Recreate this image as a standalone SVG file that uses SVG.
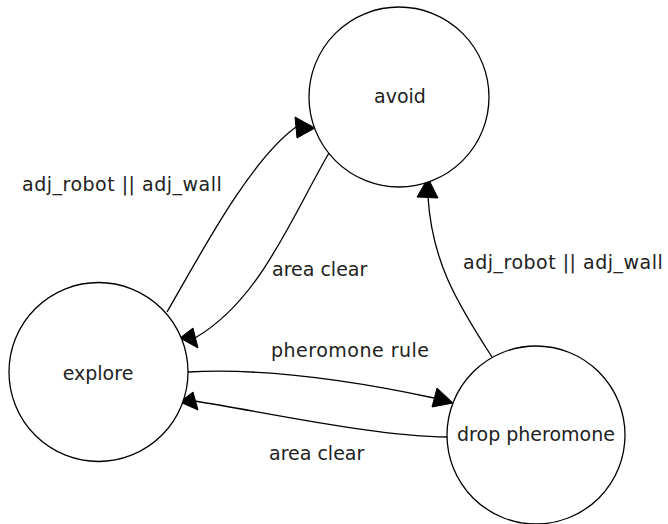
<svg xmlns="http://www.w3.org/2000/svg" width="668" height="524" viewBox="0 0 668 524">
<style>
.node circle{fill:#fff;stroke:#000;stroke-width:1.3}
text{font-family:"DejaVu Sans","Liberation Sans",sans-serif;font-size:19px;fill:#222}
.node text{text-anchor:middle}
.edge{fill:none;stroke:#000;stroke-width:1.3}
.ah{fill:#000;stroke:#000;stroke-width:1}
.wide{letter-spacing:0.5px}
</style>
<rect width="668" height="524" fill="#fff"/>
<g id="connectors">
<path class="edge" d="M167,312 C200,255 250,160 296,127"/>
<polygon class="ah" points="295,117 297,138 315,128"/>
<path class="edge" d="M329,153 C290,220 260,300 195,338"/>
<polygon class="ah" points="193,328 198,348 180,338"/>
<path class="edge" d="M188,372 C260,368 350,380 434,398"/>
<polygon class="ah" points="437,388 432,407 453,403"/>
<path class="edge" d="M448,437 C380,437 280,415 195,401"/>
<polygon class="ah" points="193,392 198,410 180,402"/>
<path class="edge" d="M492,357 C455,300 432,260 428,197"/>
<polygon class="ah" points="417,197 438,198 428,178"/>
<text class="wide" x="22" y="191">adj_robot || adj_wall</text>
<text x="272" y="276">area clear</text>
<text class="wide" x="271" y="357">pheromone rule</text>
<text x="269" y="460">area clear</text>
<text class="wide" x="463" y="269">adj_robot || adj_wall</text>
</g>
<g id="avoid" class="node">
<circle cx="399" cy="97" r="90"/>
<text x="400" y="103">avoid</text>
</g>
<g id="explore" class="node">
<circle cx="98.5" cy="372" r="89.5"/>
<text x="98" y="380">explore</text>
</g>
<g id="drop_pheromone" class="node">
<circle cx="536" cy="435" r="89"/>
<text x="536" y="441">drop pheromone</text>
</g>
</svg>
